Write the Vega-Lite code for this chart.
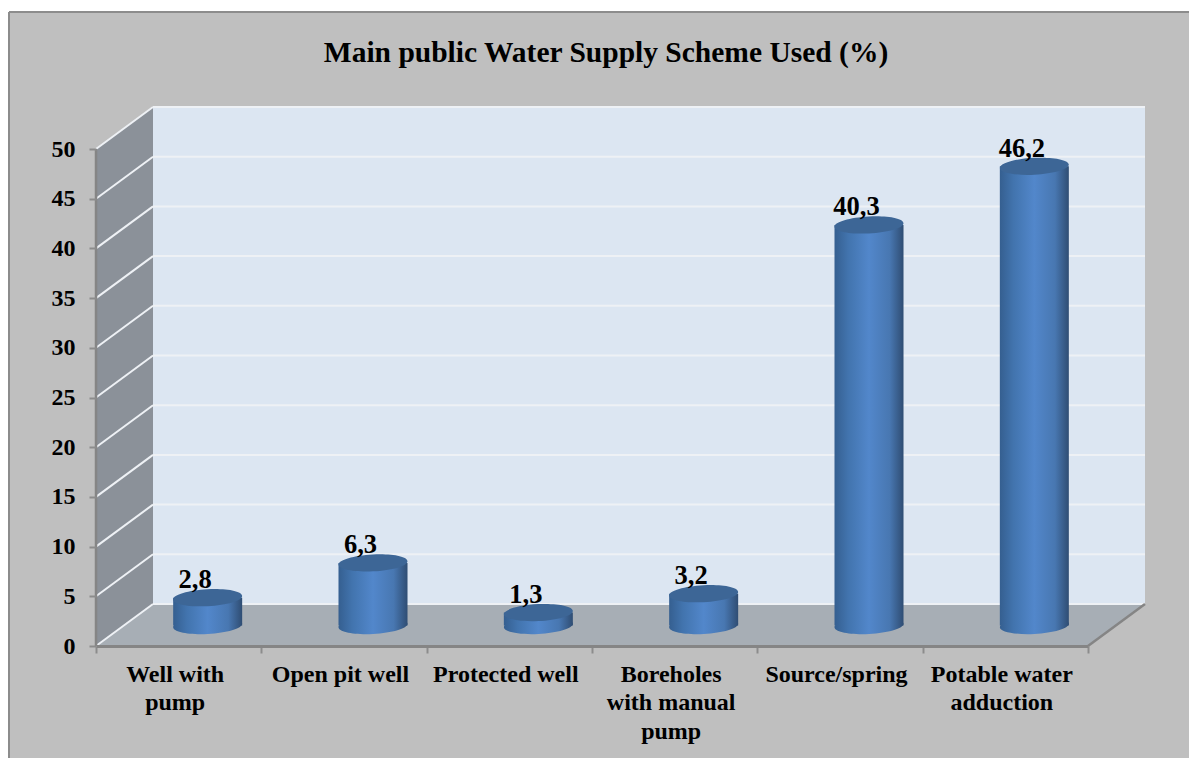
{
"$schema":"https://vega.github.io/schema/vega-lite/v6.json",
"width":1180,"height":746,
"autosize":{"type":"none"},
"padding":{"left":9,"top":12,"right":0,"bottom":0},
"background":"#ffffff",
"view":{"fill":"#bfbfbf","stroke":null},
"title":{"text":"Main public Water Supply Scheme Used (%)","font":"Liberation Serif","fontSize":29.5,"fontWeight":"bold","color":"#000000","anchor":"middle","frame":"group","dx":7,"offset":-57},
"datasets":{
"bars":[
{"category":"Well with pump","value":2.8,"label":"2,8"},
{"category":"Open pit well","value":6.3,"label":"6,3"},
{"category":"Protected well","value":1.3,"label":"1,3"},
{"category":"Boreholes with manual pump","value":3.2,"label":"3,2"},
{"category":"Source/spring","value":40.3,"label":"40,3"},
{"category":"Potable water adduction","value":46.2,"label":"46,2"}],
"grid":[{"v":0,"yb":4.226},{"v":5,"yb":9.226},{"v":10,"yb":14.226},{"v":15,"yb":19.226},{"v":20,"yb":24.226},{"v":25,"yb":29.226},{"v":30,"yb":34.226},{"v":35,"yb":39.226},{"v":40,"yb":44.226},{"v":45,"yb":49.226},{"v":50,"yb":54.226}],
"leftWall":[{"x":0,"low":0,"high":50},{"x":0.3448,"low":4.226,"high":54.226}],
"floor":[{"y":0,"from":0,"to":6},{"y":4.226,"from":0.3448,"to":6.3448}],
"backWall":[{"x":0.3448,"x2":6.3448,"y":4.226,"y2":54.226}],
"edges":[{"x":0,"x2":0,"y":0,"y2":50,"part":"axis"},{"x":6,"x2":6.3448,"y":0,"y2":4.226,"part":"floor"}],
"frame":[{"x":-0.5262,"x2":-0.5262,"y":-11.3,"y2":63.78},{"x":-0.5262,"x2":6.62,"y":63.78,"y2":63.78}]
},
"layer":[
{"layer":[
{"data":{"name":"frame"},"mark":{"type":"rule","color":"#8c8c8c","strokeWidth":2},
 "encoding":{"x":{"field":"x","type":"quantitative","scale":{"domain":[0,6.3448],"range":[87,1136]},"axis":null},"x2":{"field":"x2"},
 "y":{"field":"y","type":"quantitative","scale":{"domain":[0,54.226],"range":[634,95]},"axis":{"values":[0,5,10,15,20,25,30,35,40,45,50],"title":null,"offset":-87,"grid":false,"domain":false,"tickColor":"#8c8c8c","tickSize":7,"tickWidth":2,"labelFont":"Liberation Serif","labelFontSize":24,"labelFontWeight":"bold","labelColor":"#000000","labelPadding":14,"zindex":1}},"y2":{"field":"y2"}}},
{"data":{"name":"backWall"},"mark":{"type":"rect","fill":"#dce6f2"},
 "encoding":{"x":{"field":"x","type":"quantitative","scale":{"domain":[0,6.3448],"range":[87,1136]},"axis":null},"x2":{"field":"x2"},"y":{"field":"y","type":"quantitative","scale":{"domain":[0,54.226],"range":[634,95]},"axis":{"title":null}},"y2":{"field":"y2"}}},
{"data":{"name":"leftWall"},"mark":{"type":"area","fill":"#8b9199"},
 "encoding":{"x":{"field":"x","type":"quantitative","scale":{"domain":[0,6.3448],"range":[87,1136]},"axis":null},"y":{"field":"low","type":"quantitative","scale":{"domain":[0,54.226],"range":[634,95]},"axis":{"title":null}},"y2":{"field":"high"}}},
{"data":{"name":"floor"},"mark":{"type":"area","orient":"horizontal","fill":"#a7aeb5"},
 "encoding":{"y":{"field":"y","type":"quantitative","scale":{"domain":[0,54.226],"range":[634,95]},"axis":{"title":null}},"x":{"field":"from","type":"quantitative","scale":{"domain":[0,6.3448],"range":[87,1136]},"axis":null},"x2":{"field":"to"}}},
{"data":{"name":"grid"},"mark":{"type":"rule","color":"#eef1f5","strokeWidth":2},
 "encoding":{"x":{"datum":0.3448,"type":"quantitative","scale":{"domain":[0,6.3448],"range":[87,1136]},"axis":null},"x2":{"datum":6.3448},"y":{"field":"yb","type":"quantitative","scale":{"domain":[0,54.226],"range":[634,95]},"axis":{"title":null}}}},
{"data":{"name":"grid"},"mark":{"type":"rule","color":"#eef1f5","strokeWidth":2},
 "encoding":{"x":{"datum":0,"type":"quantitative","scale":{"domain":[0,6.3448],"range":[87,1136]},"axis":null},"x2":{"datum":0.3448},"y":{"field":"v","type":"quantitative","scale":{"domain":[0,54.226],"range":[634,95]},"axis":{"title":null}},"y2":{"field":"yb"}}},
{"data":{"name":"edges"},"mark":{"type":"rule","color":"#858585","strokeWidth":2.5},
 "encoding":{"x":{"field":"x","type":"quantitative","scale":{"domain":[0,6.3448],"range":[87,1136]},"axis":null},"x2":{"field":"x2"},"y":{"field":"y","type":"quantitative","scale":{"domain":[0,54.226],"range":[634,95]},"axis":{"title":null}},"y2":{"field":"y2"}}}
]},
{"data":{"name":"bars"},"layer":[
{"mark":{"type":"point","filled":true,"opacity":1,"xOffset":29,"yOffset":-20.5,"size":4761,"shape":"M-1,0.05 A1,0.245 -3 1,0 1,-0.05 A1,0.245 -3 1,0 -1,0.05 Z",
  "fill":{"gradient":"linear","x1":0,"y1":0,"x2":1,"y2":0,"stops":[{"offset":0,"color":"#355f90"},{"offset":0.2,"color":"#4274ae"},{"offset":0.5,"color":"#5287cb"},{"offset":0.8,"color":"#4877b1"},{"offset":1,"color":"#2f4d73"}]}},
 "encoding":{"x":{"field":"category","type":"nominal","sort":null,"scale":{"type":"band","range":[87,1079],"paddingInner":0,"paddingOuter":0},
   "axis":{"title":null,"orient":"bottom","offset":-112,"tickBand":"extent","domainColor":"#858585","domainWidth":3,"tickColor":"#8c8c8c","tickWidth":2,"tickSize":7,"labelAngle":0,"labelAlign":"center","labelBaseline":"top","labelFont":"Liberation Serif","labelFontSize":24,"labelFontWeight":"bold","labelColor":"#000000","labelPadding":9,"labelOffset":-4,"labelLimit":300,"labelOverlap":false,"labelLineHeight":28.5,"zindex":1,
   "labelExpr":"({'Well with pump':['Well with','pump'],'Boreholes with manual pump':['Boreholes','with manual','pump'],'Potable water adduction':['Potable water','adduction']})[datum.label] || datum.label"}},
  "y":{"datum":0,"type":"quantitative","scale":{"domain":[0,54.226],"range":[634,95]},"axis":{"title":null}}}},
{"mark":{"type":"bar","size":69,"xOffset":29,"yOffset":-20.5,"y2Offset":-20.5,
  "fill":{"gradient":"linear","x1":0,"y1":0,"x2":1,"y2":0,"stops":[{"offset":0,"color":"#355f90"},{"offset":0.2,"color":"#4274ae"},{"offset":0.5,"color":"#5287cb"},{"offset":0.8,"color":"#4877b1"},{"offset":1,"color":"#2f4d73"}]}},
 "encoding":{"x":{"field":"category","type":"nominal","sort":null,"axis":{"title":null,"orient":"bottom"}},"y":{"field":"value","type":"quantitative","scale":{"domain":[0,54.226],"range":[634,95]},"axis":{"title":null}}}},
{"mark":{"type":"point","filled":true,"opacity":1,"xOffset":29,"yOffset":-20.5,"size":4761,"fill":"#3d6696","shape":"M-1,0.05 A1,0.245 -3 1,0 1,-0.05 A1,0.245 -3 1,0 -1,0.05 Z"},
 "encoding":{"x":{"field":"category","type":"nominal","sort":null,"axis":{"title":null,"orient":"bottom"}},"y":{"field":"value","type":"quantitative","scale":{"domain":[0,54.226],"range":[634,95]},"axis":{"title":null}}}},
{"mark":{"type":"text","font":"Liberation Serif","fontSize":26.5,"fontWeight":"bold","color":"#000000","baseline":"alphabetic","align":"center","xOffset":16.5,"yOffset":-30},
 "encoding":{"x":{"field":"category","type":"nominal","sort":null,"axis":{"title":null,"orient":"bottom"}},"y":{"field":"value","type":"quantitative","scale":{"domain":[0,54.226],"range":[634,95]},"axis":{"title":null}},"text":{"field":"label"}}}
]}
],
"resolve":{"scale":{"x":"independent"}}
}
